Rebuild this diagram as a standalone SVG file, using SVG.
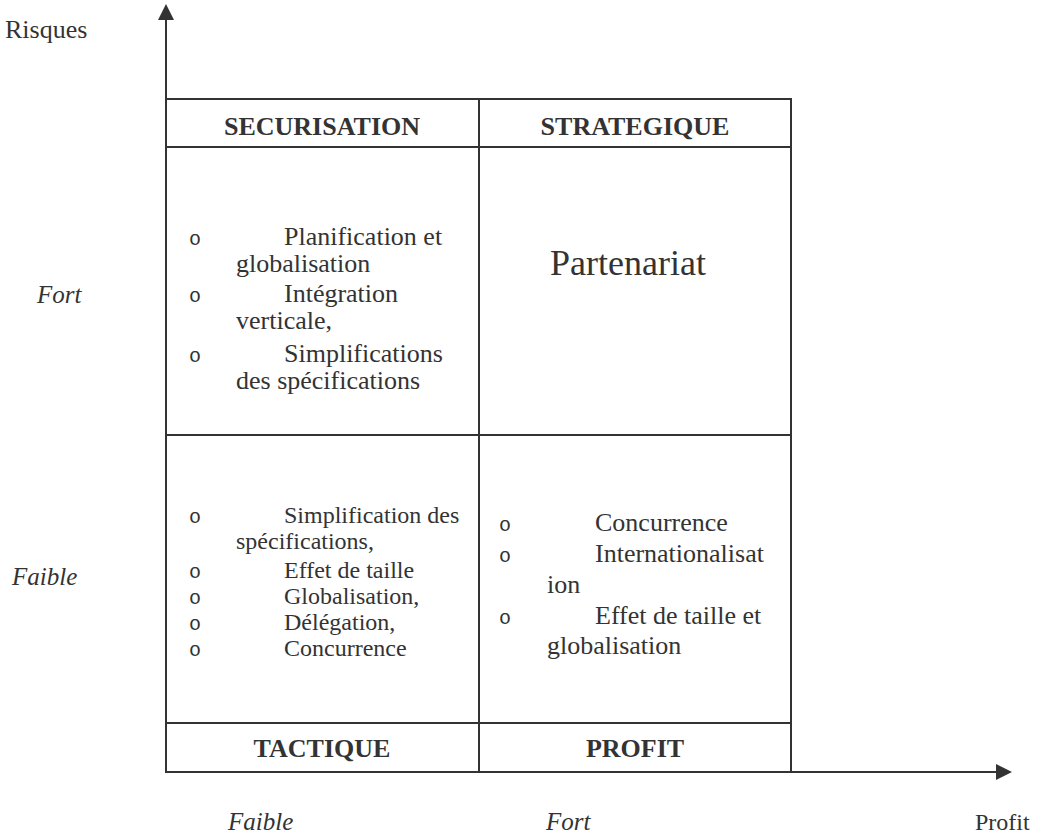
<svg xmlns="http://www.w3.org/2000/svg" width="1039" height="836" viewBox="0 0 1039 836">
<style>
.t{font-family:"Liberation Serif","Times New Roman",serif;fill:#333;font-size:26px}
.h{font-weight:bold;text-anchor:middle;font-size:26px}
.i{font-style:italic;font-size:25px}
.s{font-size:24px}
.b{font-family:"Liberation Mono","Courier New",monospace;font-size:20px}
.ln{stroke:#333;stroke-width:2;fill:none}
</style>
<defs>
<marker id="ah" markerWidth="8" markerHeight="8" refX="7" refY="4" orient="auto" markerUnits="strokeWidth">
<path d="M0,0 L8,4 L0,8 Z" fill="#333"/>
</marker>
</defs>
<g id="connectors">
<line class="ln" x1="166" y1="772" x2="166" y2="6" marker-end="url(#ah)"/>
<line class="ln" x1="166" y1="772" x2="1010" y2="772" marker-end="url(#ah)"/>
</g>
<g id="grid">
<rect class="ln" x="166" y="99" width="625" height="673"/>
<line class="ln" x1="166" y1="147" x2="791" y2="147"/>
<line class="ln" x1="166" y1="435" x2="791" y2="435"/>
<line class="ln" x1="166" y1="723" x2="791" y2="723"/>
<line class="ln" x1="479" y1="99" x2="479" y2="772"/>
</g>
<g id="labels">
<text class="t" x="5" y="38">Risques</text>
<text class="t i" x="37" y="303">Fort</text>
<text class="t i" x="12" y="585">Faible</text>
<text class="t i" x="228" y="830">Faible</text>
<text class="t i" x="546" y="830">Fort</text>
<text class="t" x="975" y="830" style="font-size:24px">Profit</text>
</g>
<g id="securisation">
<text class="t h" x="322" y="135">SECURISATION</text>
<text class="t b" x="189" y="245">o</text>
<text class="t" x="284" y="245">Planification et</text>
<text class="t" x="236" y="272">globalisation</text>
<text class="t b" x="189" y="302">o</text>
<text class="t" x="284" y="302">Intégration</text>
<text class="t" x="236" y="329">verticale,</text>
<text class="t b" x="189" y="362">o</text>
<text class="t" x="284" y="362">Simplifications</text>
<text class="t" x="236" y="389">des spécifications</text>
</g>
<g id="strategique">
<text class="t h" x="635" y="135">STRATEGIQUE</text>
<text class="t" x="628" y="275" text-anchor="middle" style="font-size:36px">Partenariat</text>
</g>
<g id="tactique">
<text class="t h" x="322" y="757">TACTIQUE</text>
<text class="t b" x="189" y="523">o</text>
<text class="t s" x="284" y="523">Simplification des</text>
<text class="t s" x="236" y="549">spécifications,</text>
<text class="t b" x="189" y="578">o</text>
<text class="t s" x="284" y="578">Effet de taille</text>
<text class="t b" x="189" y="604">o</text>
<text class="t s" x="284" y="604">Globalisation,</text>
<text class="t b" x="189" y="630">o</text>
<text class="t s" x="284" y="630">Délégation,</text>
<text class="t b" x="189" y="656">o</text>
<text class="t s" x="284" y="656">Concurrence</text>
</g>
<g id="profit">
<text class="t h" x="635" y="757">PROFIT</text>
<text class="t b" x="499" y="531">o</text>
<text class="t" x="595" y="531">Concurrence</text>
<text class="t b" x="499" y="562">o</text>
<text class="t" x="595" y="562">Internationalisat</text>
<text class="t" x="547" y="593">ion</text>
<text class="t b" x="499" y="624">o</text>
<text class="t" x="595" y="624">Effet de taille et</text>
<text class="t" x="547" y="654">globalisation</text>
</g>
</svg>
